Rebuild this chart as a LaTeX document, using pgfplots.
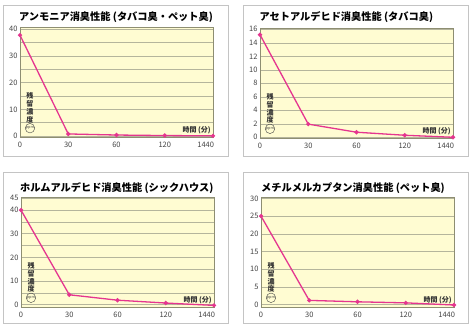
\documentclass[border=0pt]{standalone}
\usepackage{pgfplots}
\pgfplotsset{compat=1.18}
\usepackage{fontspec}
\setmainfont{Noto Sans CJK JP}
\usetikzlibrary{shadows}
\definecolor{mag}{HTML}{E5358F}
\definecolor{bgy}{HTML}{FFFCD2}
\definecolor{gridc}{HTML}{B5B59C}
\definecolor{axc}{HTML}{8E8E72}
\definecolor{tcol}{HTML}{444444}
\definecolor{cardb}{HTML}{C4C4C4}
\pgfplotsset{
  panel/.style={
    scale only axis, width=193pt, height=110pt,
    xmin=0, xmax=4, xtick={0,1,2,3,4},
    xticklabels={0,30,60,120,{\hbox to 0pt{\hss 1440\hskip-1pt}}},
    axis background/.style={fill=bgy},
    axis line style={draw=axc, line width=0.6pt},
    ymajorgrids, yminorgrids,
    major grid style={draw=gridc, line width=0.5pt},
    minor grid style={draw=gridc, line width=0.5pt},
    major tick length=0pt, minor tick length=0pt,
    tick label style={font=\fontsize{7.5}{8}\selectfont, text=tcol},
    yticklabel style={xshift=1pt},
    xticklabel style={yshift=-1pt},
    /pgf/number format/assume math mode=true,
    clip=false,
  },
  ser/.style={line width=1.3pt, color=mag, mark=*, mark size=1.4pt, mark options={fill=mag, draw=mag}},
}
\newcommand{\ylab}{%
  \node[anchor=south, xshift=10pt, yshift=14.5pt, inner sep=0pt, font=\bfseries\fontsize{7}{7.8}\selectfont, text=black!80, align=center] at (rel axis cs:0,0) {残\\留\\濃\\度};
  \node[draw=tcol, line width=0.4pt, circle, inner sep=0.3pt, xshift=10pt, yshift=9.5pt, font=\fontsize{3.8}{4}\selectfont, text=tcol] at (rel axis cs:0,0) {ppm};
  \node[anchor=east, xshift=-2pt, yshift=7.5pt, inner sep=0pt, font=\bfseries\fontsize{7}{8}\selectfont, text=black!80] at (rel axis cs:1,0) {時間 (分)};
}
\usetikzlibrary{shapes.geometric}
\begin{document}
\begin{tikzpicture}
\fill[white] (0,0) rectangle (474pt,331pt);
\foreach \x/\y in {3pt/175pt, 243pt/175pt, 3pt/8pt, 243pt/8pt}{
  \draw[cardb, line width=0.8pt, fill=white, drop shadow={shadow xshift=1.2pt, shadow yshift=-1.2pt, opacity=0.35}] (\x,\y) rectangle ++(225pt,151pt);
}
\node[anchor=west, inner sep=0pt, font=\bfseries\fontsize{10.2}{11}\selectfont] at (19pt,314pt) {アンモニア消臭性能 (タバコ臭・ペット臭)};
\node[anchor=west, inner sep=0pt, font=\bfseries\fontsize{10.2}{11}\selectfont] at (259.5pt,314pt) {アセトアルデヒド消臭性能 (タバコ臭)};
\node[anchor=west, inner sep=0pt, font=\bfseries\fontsize{10.2}{11}\selectfont] at (20pt,143pt) {ホルムアルデヒド消臭性能 (シックハウス)};
\node[anchor=west, inner sep=0pt, font=\bfseries\fontsize{10.2}{11}\selectfont] at (261pt,143pt) {メチルメルカプタン消臭性能 (ペット臭)};

\begin{axis}[panel, at={(20pt,303.3pt)}, anchor=north west,
  ymin=-0.6, ymax=40.6, ytick={0,10,20,30,40}, minor ytick={5,15,25,35}]
\addplot[ser] coordinates {(0,37.8) (1,0.8) (2,0.4) (3,0.2) (4,0.1)};
\ylab
\end{axis}

\begin{axis}[panel, at={(260pt,302.7pt)}, anchor=north west,
  ymin=-0.15, ymax=16.15, ytick={0,2,4,6,8,10,12,14,16}]
\addplot[ser] coordinates {(0,15.2) (1,1.95) (2,0.75) (3,0.3) (4,0.0)};
\ylab
\end{axis}

\begin{axis}[panel, at={(21pt,133.7pt)}, anchor=north west,
  ymin=-1.1, ymax=45.4, ytick={0,10,20,30,40,45}, minor ytick={5,15,25,35}]
\addplot[ser] coordinates {(0,40) (1,4.2) (2,1.9) (3,0.7) (4,-0.3)};
\ylab
\end{axis}

\begin{axis}[panel, at={(261pt,133.7pt)}, anchor=north west,
  ymin=-0.75, ymax=30.3, ytick={0,5,10,15,20,25,30}]
\addplot[ser] coordinates {(0,25) (1,1.2) (2,0.8) (3,0.5) (4,-0.1)};
\ylab
\end{axis}
\end{tikzpicture}
\end{document}
